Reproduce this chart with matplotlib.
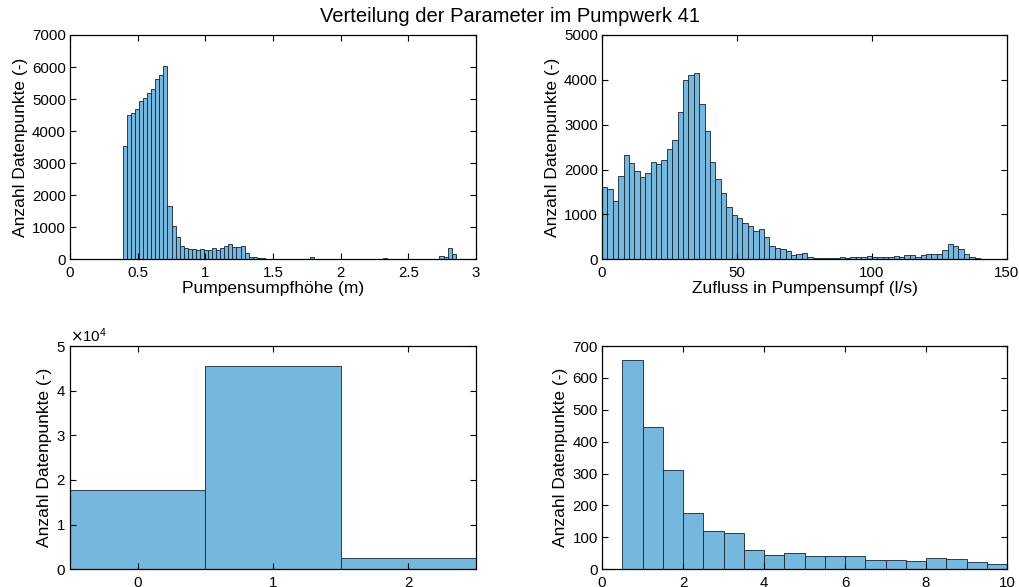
import numpy as np
import matplotlib
matplotlib.use("Agg")
import matplotlib.pyplot as plt
from matplotlib.ticker import FuncFormatter, MultipleLocator

plt.rcParams['font.family'] = ['Liberation Sans', 'DejaVu Sans']

# ---- data ----
title = "Verteilung der Parameter im Pumpwerk 41"
ylabel = "Anzahl Datenpunkte (-)"

# Pumpensumpfhöhe histogram (bin width 0.03 starting at 0.39)
hoehe_start = 0.39
hoehe_width = 0.03
hoehe_counts = [3540, 4490, 4560, 4700, 4930, 5030, 5180, 5310, 5630, 5740,
                6040, 1650, 1030, 700, 430, 345, 325, 325, 275, 320,
                300, 290, 345, 275, 365, 405, 475, 395, 395, 415,
                200, 80, 70, 45, 30, 20, 15, 10, 5, 3,
                2, 2, 2, 2, 3, 5, 60, 5, 2, 2,
                2, 3, 3, 5, 8, 15, 20, 20, 20, 20,
                18, 20, 15, 20, 25, 20, 15, 5, 2, 2,
                2, 2, 2, 2, 2, 3, 5, 10, 100, 75,
                350, 160]
hoehe_xlabel = "Pumpensumpfhöhe (m)"

# Zufluss histogram (bin width 2 starting at 0)
zufluss_start = 0
zufluss_width = 2
zufluss_counts = [1620, 1560, 1310, 1860, 2320, 2140, 1960, 1830, 1930, 2180,
                  2120, 2220, 2450, 2670, 3290, 3990, 4100, 4150, 3470, 2870,
                  2175, 1790, 1470, 1160, 980, 910, 817, 742, 630, 665,
                  500, 304, 252, 228, 182, 97, 111, 134, 59, 37,
                  37, 37, 37, 37, 45, 37, 45, 45, 59, 67,
                  59, 52, 52, 59, 74, 59, 89, 104, 52, 97,
                  111, 111, 119, 205, 340, 293, 240, 115, 50, 18]
zufluss_xlabel = "Zufluss in Pumpensumpf (l/s)"

# Categorical (0/1/2) histogram
kat_values = [0, 1, 2]
kat_counts = [17830, 45470, 2500]

# Bottom-right histogram (bin width 0.5 starting at 0)
br_start = 0.0
br_width = 0.5
br_counts = [0, 656, 446, 310, 175, 119, 113, 59, 44, 51,
             42, 42, 41, 29, 28, 25, 34, 31, 23, 16]

# ---- style ----
face = '#76b7de'
edge = (0.08, 0.14, 0.2, 1.0)

W, H = 1020, 587
fig = plt.figure(figsize=(W / 100, H / 100), dpi=100)

def fax(l, t, r, b):
    return fig.add_axes([l / W, 1 - b / H, (r - l) / W, (b - t) / H])

ax1 = fax(70, 35, 476, 259.3)
ax2 = fax(602, 35, 1007, 259.3)
ax3 = fax(70, 346, 476, 569.3)
ax4 = fax(602, 346, 1007, 569.3)

fmt = FuncFormatter(lambda v, p: f"{v:g}")

def style(ax):
    ax.tick_params(direction='in', top=True, right=True, length=4, width=0.8,
                   labelsize=10.8, pad=3, colors='black')
    ax.tick_params(axis='x', pad=4.5)
    for s in ax.spines.values():
        s.set_linewidth(0.9)
    ax.set_ylabel(ylabel, fontsize=12.5, labelpad=3)

# top-left
n = len(hoehe_counts)
left = hoehe_start + hoehe_width * np.arange(n)
ax1.bar(left, hoehe_counts, width=hoehe_width, align='edge', color=face,
        edgecolor=edge, linewidth=0.6)
ax1.set_xlim(0, 3)
ax1.set_ylim(0, 7000)
ax1.xaxis.set_major_locator(MultipleLocator(0.5))
ax1.yaxis.set_major_locator(MultipleLocator(1000))
ax1.xaxis.set_major_formatter(fmt)
ax1.set_xlabel(hoehe_xlabel, fontsize=12.5, labelpad=1)
style(ax1)

# top-right
n = len(zufluss_counts)
left = zufluss_start + zufluss_width * np.arange(n)
ax2.bar(left, zufluss_counts, width=zufluss_width, align='edge', color=face,
        edgecolor=edge, linewidth=0.6)
ax2.set_xlim(0, 150)
ax2.set_ylim(0, 5000)
ax2.xaxis.set_major_locator(MultipleLocator(50))
ax2.yaxis.set_major_locator(MultipleLocator(1000))
ax2.set_xlabel(zufluss_xlabel, fontsize=12.5, labelpad=1)
style(ax2)

# bottom-left
ax3.bar(kat_values, kat_counts, width=1.0, align='center', color=face,
        edgecolor=edge, linewidth=0.6)
ax3.set_xlim(-0.5, 2.5)
ax3.set_ylim(0, 50000)
ax3.xaxis.set_major_locator(MultipleLocator(1))
ax3.yaxis.set_major_locator(MultipleLocator(10000))
ax3.ticklabel_format(style='sci', axis='y', scilimits=(0, 0), useMathText=True)
style(ax3)
ax3.yaxis.get_offset_text().set_fontsize(10.8)

# bottom-right
n = len(br_counts)
left = br_start + br_width * np.arange(n)
ax4.bar(left, br_counts, width=br_width, align='edge', color=face,
        edgecolor=edge, linewidth=0.6)
ax4.set_xlim(0, 10)
ax4.set_ylim(0, 700)
ax4.xaxis.set_major_locator(MultipleLocator(2))
ax4.yaxis.set_major_locator(MultipleLocator(100))
style(ax4)

fig.text(0.5, 1 - 17 / H, title, ha='center', va='center', fontsize=14.5)

fig.savefig("out.png", dpi=100)
